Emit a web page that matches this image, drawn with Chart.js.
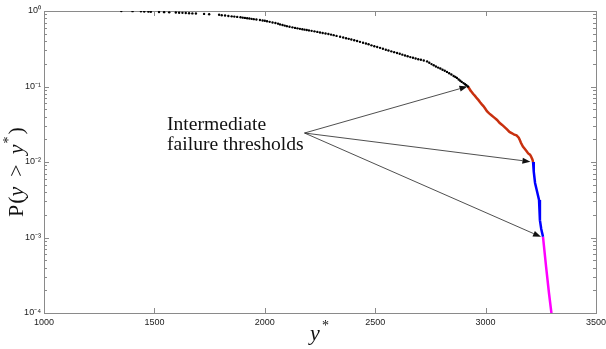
<!DOCTYPE html>
<html>
<head>
<meta charset="utf-8">
<script src="https://cdn.jsdelivr.net/npm/chart.js@4"></script>
<style>
html,body{margin:0;padding:0;background:#fff;}
#wrap{width:606px;height:349px;position:relative;}
</style>
</head>
<body>
<div id="wrap"><canvas id="c" width="606" height="349"></canvas></div>
<script>
// ---- data ----
const blackX = [1350,1401,1439,1454,1473,1484,1521,1544,1567,1597,1612,1627,1642,1657,1672,1688,1725,1748,
  1793,1805,1820,1835,1850,1862,1875,1890,1900,1910,1920,1930,1940,1950,1962,1978,1990,2000,2010,2022,2035,2048,2060,2069,
  2080,2090,2100,2112,2125,2137,2148,2159,2170,2180,2190,2200,2212,2225,2238,2250,2262,2275,2288,2300,2312,2325,2341,
  2355,2368,2380,2392,2405,2418,2431,2445,2458,2470,2483,2496,2509,2522,2535,2548,2560,2573,2586,2599,2611,2623,2635,
  2647,2659,2671,2683,2695,2707,2720,2735,2745,2755,2765,2775,2785,2795,2805,2815,2825,2835,2845,2855,2863,2870,2878,
  2885,2892,2900,2907,2913,2920];
const blackP = [1.00,0.995,0.99,0.985,0.98,0.975,0.97,0.965,0.96,0.955,0.95,0.945,0.94,0.935,0.93,0.925,0.915,0.905,
  0.890,0.880,0.870,0.860,0.850,0.843,0.835,0.825,0.817,0.810,0.802,0.795,0.787,0.780,0.771,0.760,0.750,0.742,0.730,0.718,0.705,0.693,0.680,0.665,
  0.652,0.641,0.630,0.619,0.607,0.597,0.589,0.580,0.573,0.566,0.560,0.553,0.546,0.538,0.529,0.520,0.512,0.503,0.495,0.487,0.479,0.468,0.455,
  0.445,0.436,0.428,0.419,0.410,0.400,0.390,0.380,0.371,0.362,0.351,0.341,0.333,0.325,0.316,0.307,0.300,0.292,0.285,0.278,0.271,0.264,0.257,
  0.251,0.245,0.240,0.235,0.230,0.226,0.221,0.215,0.206,0.198,0.191,0.184,0.178,0.173,0.167,0.162,0.156,0.150,0.144,0.138,0.134,0.130,0.124,
  0.119,0.115,0.111,0.107,0.104,0.100];
const redX = [2920,2926,2932,2938,2943,2952,2960,2968,2975,2983,2990,2998,3006,3016,3025,3038,3052,3063,3075,3086,3097,3108,3120,3130,3140,3150,3155,3160,3169,3177,3185,3193,3201,3205,3208,3212,3215];
const redP = [0.100,0.094,0.088,0.084,0.080,0.075,0.070,0.066,0.062,0.058,0.055,0.051,0.047,0.044,0.042,0.039,0.036,0.033,0.031,0.029,0.027,0.025,0.024,0.023,0.0225,0.021,0.0195,0.018,0.016,0.015,0.014,0.013,0.0125,0.012,0.0115,0.0108,0.010];
const blueX = [3215,3218,3224,3232,3242,3246,3252,3260];
const blueP = [0.010,0.0075,0.00527,0.0042,0.00314,0.0017,0.0013,0.00102];
const magentaX = [3260,3274,3287,3300];
const magentaP = [0.00102,0.000407,0.000184,0.00009];
const xTicks = [1000,1500,2000,2500,3000,3500];
const yTicks = [1,0.1,0.01,0.001,0.0001];
const yTickLabels = ['10\u2070','10\u207B\u00B9','10\u207B\u00B2','10\u207B\u00B3','10\u207B\u2074'];
const annotationLines = ['Intermediate','failure thresholds'];
const arrowFrom = [2180,0.0242];
const arrowTo = [[2918,0.1],[3203,0.0101],[3251,0.00102]];

const pts = (xs, ps) => xs.map((x,i)=>({x:x, y:ps[i]}));

const framePlugin = {
  id:'frame',
  beforeDatasetsDraw(chart){
    const {ctx, chartArea:a, scales:{x, y}} = chart;
    ctx.save();
    ctx.strokeStyle = '#8a8a8a';
    ctx.lineWidth = 1;
    ctx.strokeRect(a.left+0.5, a.top+0.5, a.right-a.left, a.bottom-a.top);
    ctx.beginPath();
    xTicks.forEach(v=>{
      const px = Math.round(x.getPixelForValue(v))+0.5;
      ctx.moveTo(px, a.bottom); ctx.lineTo(px, a.bottom-5);
      ctx.moveTo(px, a.top); ctx.lineTo(px, a.top+5);
    });
    for(let e=-4;e<=0;e++){
      for(let m=1;m<=9;m++){
        const v = m*Math.pow(10,e);
        if(v>1.0000001) break;
        const len = (m===1)?5:3;
        const py = Math.round(y.getPixelForValue(v))+0.5;
        ctx.moveTo(a.left, py); ctx.lineTo(a.left+len, py);
        ctx.moveTo(a.right, py); ctx.lineTo(a.right-len, py);
      }
    }
    ctx.stroke();
    ctx.restore();
  },
  afterDraw(chart){
    const {ctx, scales:{x, y}} = chart;
    ctx.save();
    // arrows
    const ox = x.getPixelForValue(arrowFrom[0]), oy = y.getPixelForValue(arrowFrom[1]);
    ctx.strokeStyle = '#222'; ctx.fillStyle = '#111'; ctx.lineWidth = 0.8;
    arrowTo.forEach(t=>{
      const tx = x.getPixelForValue(t[0]), ty = y.getPixelForValue(t[1]);
      const ang = Math.atan2(ty-oy, tx-ox);
      const L = 8, W = 3;
      const bx = tx - L*Math.cos(ang), by = ty - L*Math.sin(ang);
      ctx.beginPath(); ctx.moveTo(ox,oy); ctx.lineTo(bx,by); ctx.stroke();
      ctx.beginPath();
      ctx.moveTo(tx,ty);
      ctx.lineTo(bx + W*Math.sin(ang), by - W*Math.cos(ang));
      ctx.lineTo(bx - W*Math.sin(ang), by + W*Math.cos(ang));
      ctx.closePath(); ctx.fill();
    });
    // annotation text
    ctx.fillStyle = '#111';
    ctx.font = '18px "Liberation Serif", serif';
    ctx.textBaseline = 'alphabetic';
    annotationLines.forEach((s,i)=>{
      ctx.save(); ctx.translate(167, 130 + i*20); ctx.scale(1.09,1); ctx.fillText(s,0,0); ctx.restore();
    });
    // x title: y*
    ctx.font = 'italic 22px "Liberation Serif", serif';
    ctx.fillText('y', 310, 340);
    ctx.font = '14px "Liberation Serif", serif';
    ctx.fillText('*', 322, 330);
    // y title: P(y > y*)
    ctx.save();
    ctx.translate(23, 217);
    ctx.rotate(-Math.PI/2);
    let cx = 0;
    const part = (s, f, dy) => { ctx.font = f; ctx.fillText(s, cx, dy||0); cx += ctx.measureText(s).width; };
    part('P', '22px "Liberation Serif", serif');
    cx += 1;
    part('(', '22px "Liberation Serif", serif');
    part('y', 'italic 22px "Liberation Serif", serif');
    cx += 10;
    part('>', '22px "Liberation Serif", serif');
    cx += 10;
    part('y', 'italic 22px "Liberation Serif", serif');
    cx += 1;
    part('*', '14px "Liberation Serif", serif', -10);
    cx += 2;
    part(')', '22px "Liberation Serif", serif');
    ctx.restore();
    ctx.restore();
  }
};

new Chart(document.getElementById('c'), {
  type:'scatter',
  data:{ datasets:[
    {data:pts(blackX, blackP), showLine:false, pointRadius:1.2, pointBackgroundColor:'#000', pointBorderWidth:0, borderColor:'#000'},
    {data:pts(redX, redP), showLine:true, borderColor:'#c8300f', borderWidth:2.5, pointRadius:0},
    {data:pts(blueX, blueP), showLine:true, borderColor:'#0000ff', borderWidth:2.5, pointRadius:0},
    {data:pts(magentaX, magentaP), showLine:true, borderColor:'#ff00ff', borderWidth:2.5, pointRadius:0}
  ]},
  options:{
    responsive:false, animation:false,
    layout:{padding:{top:11,right:10,left:0,bottom:0}},
    plugins:{legend:{display:false}, tooltip:{enabled:false}},
    scales:{
      x:{type:'linear', min:1000, max:3500,
         afterBuildTicks(s){ s.ticks = xTicks.map(v=>({value:v})); },
         afterFit(s){ s.height = 36; s.paddingLeft = 0; s.paddingRight = 0; },
         grid:{display:false, drawTicks:false, tickLength:0}, border:{display:false},
         ticks:{padding:4, color:'#222', font:{family:'"Liberation Sans", Arial', size:9}, maxRotation:0,
           callback(v){ return String(v); }}},
      y:{type:'logarithmic', min:0.0001, max:1,
         afterBuildTicks(s){ s.ticks = yTicks.map(v=>({value:v})); },
         afterFit(s){ s.width = 44; s.paddingTop = 0; s.paddingBottom = 0; },
         grid:{display:false, drawTicks:false, tickLength:0}, border:{display:false},
         ticks:{padding:3, color:'#222', font:{family:'"Liberation Sans", Arial', size:9},
           callback(v){ const i = yTicks.findIndex(t=>Math.abs(t-v)/t<1e-6); return i>=0 ? yTickLabels[i] : ''; }}}
    }
  },
  plugins:[framePlugin]
});
</script>
</body>
</html>
